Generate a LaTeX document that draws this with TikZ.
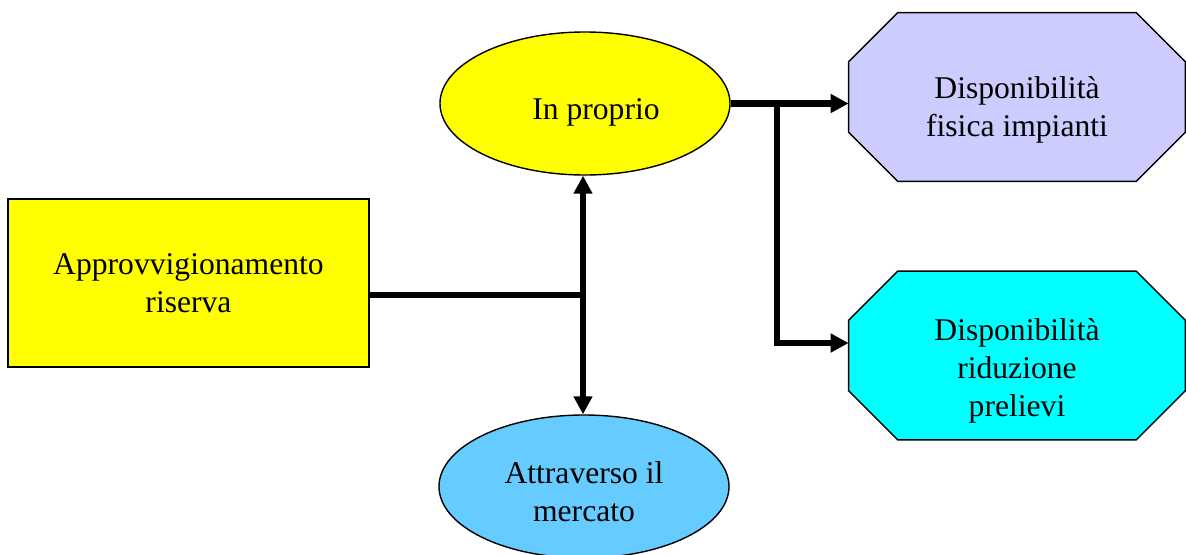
\documentclass[tikz,border=0pt]{standalone}
\usepackage{fontspec}
\setmainfont{Liberation Serif}
\usetikzlibrary{arrows.meta,shapes.geometric,positioning}
\definecolor{boxYellow}{HTML}{FFFF00}
\definecolor{lilac}{HTML}{CCCCFF}
\definecolor{skyBlue}{HTML}{66CCFF}
\definecolor{aqua}{HTML}{00FFFF}
\tikzstyle{txt}=[inner sep=0pt, align=center, font=\fontsize{18}{21.6}\selectfont]
\tikzstyle{base}=[draw, line width=0.8pt, txt]
\tikzstyle{rectBox}=[base, rectangle, minimum width=7.22cm, minimum height=3.36cm]
\tikzstyle{ovalNode}=[base, ellipse, minimum width=5.8cm, minimum height=2.86cm]
\tikzstyle{octBox}=[rectangle, inner sep=0pt, minimum width=6.72cm, minimum height=3.36cm]
\tikzstyle{octLine}=[line width=0.8pt]
\tikzstyle{thickLine}=[line width=3.7pt]
\tikzstyle{thickArrow}=[thickLine, -{Triangle[length=3.6mm,width=3.6mm]}]
% octagon drawn round a named octBox node: #1 node, #2 fill
\newcommand{\octOutline}[2]{%
  \filldraw[octLine, fill=#2] ([xshift=0.98cm]#1.north west) -- ([xshift=-0.98cm]#1.north east)
    -- ([yshift=-0.98cm]#1.north east) -- ([yshift=0.98cm]#1.south east)
    -- ([xshift=-0.98cm]#1.south east) -- ([xshift=0.98cm]#1.south west)
    -- ([yshift=0.98cm]#1.south west) -- ([yshift=-0.98cm]#1.north west) -- cycle;}

\begin{document}
\begin{tikzpicture}
    \useasboundingbox (0,0) rectangle (23.72,-11.08);
    \clip (0,0) rectangle (23.72,-11.08);

    % shapes
    \node[rectBox, fill=boxYellow] (appr) at (3.77, -5.66) {Approvvigionamento\\riserva};
    \node[ovalNode, fill=boxYellow] (inpr) at (11.70, -2.07) {};
    \node[txt] (inpr-t) at ([xshift=0.22cm, yshift=-0.18cm]inpr.center) {In proprio};
    \node[ovalNode, fill=skyBlue] (merc) at (11.68, -9.73) {};
    \node[txt] (merc-t) at ([yshift=-0.11cm]merc.center) {Attraverso il\\mercato};
    \node[octBox] (fis) at (20.34, -1.94) {};
    \octOutline{fis}{lilac}
    \node[txt] (fis-t) at ([yshift=-0.25cm]fis.center) {Disponibilità\\fisica impianti};
    \node[octBox] (rid) at (20.34, -7.11) {};
    \octOutline{rid}{aqua}
    \node[txt] (rid-t) at ([yshift=-0.3cm]rid.center) {Disponibilità\\riduzione\\prelievi};

    % branch points
    \coordinate (junc) at (11.66, -5.90);
    \coordinate (split) at (15.54, -2.07);

    % left fork
    \draw[thickLine] (appr.east |- junc) -- (junc);
    \draw[thickArrow] (junc) -- (junc |- inpr.south);
    \draw[thickArrow] (junc) -- (junc |- merc.north);

    % right fork
    \draw[thickArrow] (inpr.east) -- (inpr.east -| fis.west);
    \draw[thickArrow] (split) |- ([yshift=0.25cm]rid.west);
\end{tikzpicture}
\end{document}
